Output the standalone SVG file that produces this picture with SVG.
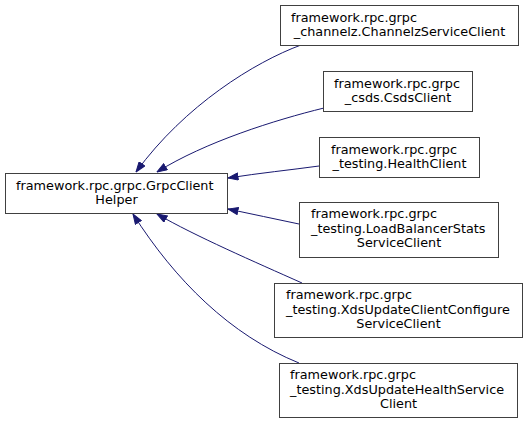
<svg xmlns="http://www.w3.org/2000/svg" width="529" height="423" viewBox="0 0 529 423">
<style>
rect.n{fill:#ffffff;stroke:#404040;stroke-width:1}
text{font-family:"DejaVu Sans",sans-serif;font-size:12.8px;fill:#000000}
.c{text-anchor:middle}
path.e{fill:none;stroke:#191970;stroke-width:1}
</style>
<defs>
<marker id="arr" viewBox="0 0 11 8" refX="10.5" refY="4" markerWidth="11" markerHeight="8" markerUnits="userSpaceOnUse" orient="auto">
<path d="M0.5,0.5 L10.5,4 L0.5,7.5 z" fill="#191970" stroke="#191970" stroke-width="1"/>
</marker>
</defs>
<g id="edges">
<path class="e" marker-end="url(#arr)" d="M301,45 C255,62 185,105 136,172"/>
<path class="e" marker-end="url(#arr)" d="M324,108 C275,120 205,142 157,172"/>
<path class="e" marker-end="url(#arr)" d="M319,166 C290,170 260,173 228,178"/>
<path class="e" marker-end="url(#arr)" d="M299,224 C275,219 252,214 228,209"/>
<path class="e" marker-end="url(#arr)" d="M302,283 C255,262 195,236 157,214"/>
<path class="e" marker-end="url(#arr)" d="M299,363 C230,335 175,280 133,214"/>
</g>
<g id="main">
<rect class="n" x="5.5" y="173.5" width="222" height="40"/>
<text x="16" y="189.5">framework.rpc.grpc.GrpcClient</text>
<text class="c" x="116.5" y="203.5">Helper</text>
</g>
<g id="channelz">
<rect class="n" x="280.5" y="5.5" width="238" height="40"/>
<text x="291" y="21.5">framework.rpc.grpc</text>
<text class="c" x="399.5" y="35.5">_channelz.ChannelzServiceClient</text>
</g>
<g id="csds">
<rect class="n" x="323.5" y="71.5" width="149" height="40"/>
<text x="334" y="87.5">framework.rpc.grpc</text>
<text class="c" x="398" y="101.5">_csds.CsdsClient</text>
</g>
<g id="health">
<rect class="n" x="319.5" y="137.5" width="160" height="40"/>
<text x="331" y="153.5">framework.rpc.grpc</text>
<text class="c" x="399.5" y="167.5">_testing.HealthClient</text>
</g>
<g id="loadbalancer">
<rect class="n" x="299.5" y="202.5" width="199" height="55"/>
<text x="311" y="218">framework.rpc.grpc</text>
<text x="311" y="232.5">_testing.LoadBalancerStats</text>
<text class="c" x="399" y="247">ServiceClient</text>
</g>
<g id="xdsclientconfigure">
<rect class="n" x="274.5" y="283.5" width="248" height="54"/>
<text x="286" y="299">framework.rpc.grpc</text>
<text x="286" y="313.5">_testing.XdsUpdateClientConfigure</text>
<text class="c" x="398.5" y="328">ServiceClient</text>
</g>
<g id="xdshealth">
<rect class="n" x="279.5" y="363.5" width="238" height="54"/>
<text x="290" y="379">framework.rpc.grpc</text>
<text x="290" y="393.5">_testing.XdsUpdateHealthService</text>
<text class="c" x="398.5" y="408">Client</text>
</g>
</svg>
